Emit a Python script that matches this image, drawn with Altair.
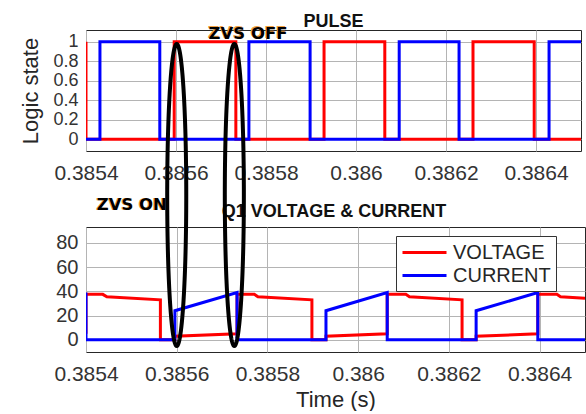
import altair as alt
import numpy as np
import pandas as pd

# ---------------- data ----------------
x_domain = [0.3854, 0.3865]
x_ticks = [0.3854, 0.3856, 0.3858, 0.386, 0.3862, 0.3864]

# top panel: gate pulses (logic state)
pulse_red_t = [0.3854, 0.3854, 0.385596, 0.385596, 0.385733, 0.385733, 0.385929, 0.385929,
               0.386064, 0.386064, 0.38626, 0.38626, 0.386396, 0.386396, 0.3865]
pulse_red_s = [1, 0, 0, 1, 1, 0, 0, 1, 1, 0, 0, 1, 1, 0, 0]
pulse_blue_t = [0.3854, 0.385431, 0.385431, 0.385564, 0.385564, 0.385762, 0.385762, 0.385898,
                0.385898, 0.386096, 0.386096, 0.386229, 0.386229, 0.386429, 0.386429, 0.3865]
pulse_blue_s = [0, 0, 1, 1, 0, 0, 1, 1, 0, 0, 1, 1, 0, 0, 1, 1]

# bottom panel: Q1 voltage & current
volt_t = [0.3854, 0.3854, 0.385437, 0.385446, 0.385564, 0.385564, 0.385596, 0.385596,
          0.385733, 0.385733, 0.385771, 0.385779, 0.385898, 0.385898, 0.385929, 0.385929,
          0.386064, 0.386064, 0.386105, 0.386113, 0.386229, 0.386229, 0.38626, 0.38626,
          0.386396, 0.386396, 0.386438, 0.386446, 0.3865]
volt_v = [5, 37.5, 37.5, 35.5, 33, 0, 0, 3,
          5, 37.5, 37.5, 35.5, 33, 0, 0, 3,
          5, 37.5, 37.5, 35.5, 33, 0, 0, 3,
          5, 37.5, 37.5, 35.5, 34.3]
cur_t = [0.3854, 0.3854, 0.385596, 0.385596, 0.385733, 0.385733, 0.385929, 0.385929,
         0.386064, 0.386064, 0.38626, 0.38626, 0.386396, 0.386396, 0.3865]
cur_v = [39, 0, 0, 24, 39, 0, 0, 24, 39, 0, 0, 24, 39, 0, 0]

series_names = ["VOLTAGE", "CURRENT"]
series_colors = ["#ff0000", "#0000ff"]

# annotations
ellipse_center_t = [0.3856, 0.385727]
ellipse_half_width_t = 0.000021
ellipse_center_v = 119.4      # in bottom-panel units
ellipse_half_height_v = 124.4

zvs_off_label = ["ZVS OFF"]
zvs_off_t = [0.38576]
zvs_off_v = [1.08]
zvs_on_label = ["ZVS ON"]
zvs_on_t = [0.385501]
zvs_on_v = [111.0]


def frame(t, v, name):
    return pd.DataFrame({"t": t, "v": v, "series": name, "i": list(range(len(t)))})


FONT = "Liberation Sans"

x_scale = alt.Scale(domain=x_domain, nice=False, zero=False)
# the lower panel's heading sits under the upper panel's tick labels
x_top = alt.X("t:Q", scale=x_scale,
              axis=alt.Axis(values=x_ticks, format=".4~f", title="Q1 VOLTAGE & CURRENT",
                            labelFlush=False, labelPadding=11,
                            titleFont=FONT, titleFontSize=18, titleFontWeight="bold",
                            titleColor="#111111", titlePadding=19))
x_bot = alt.X("t:Q", scale=x_scale,
              axis=alt.Axis(values=x_ticks, format=".4~f", title="Time (s)", labelFlush=False,
                            labelPadding=11, titlePadding=5))
y_top = alt.Y("v:Q", scale=alt.Scale(domain=[-0.12, 1.12], nice=False, zero=False),
              axis=alt.Axis(values=[0, 0.2, 0.4, 0.6, 0.8, 1], format=".1~f",
                            title="Logic state", titlePadding=10, labelOverlap=False,
                            labelFontSize=18))
y_bot = alt.Y("v:Q", scale=alt.Scale(domain=[-10, 93], nice=False, zero=False),
              axis=alt.Axis(values=[0, 20, 40, 60, 80], format="d", title=None,
                            labelOverlap=False, labelFontSize=20))

# ---------------- top panel ----------------
top_red = alt.Chart(frame(pulse_red_t, pulse_red_s, "red")).mark_line(
    strokeWidth=3, clip=True, color=series_colors[0]).encode(x=x_top, y=y_top, order="i:Q")
top_blue = alt.Chart(frame(pulse_blue_t, pulse_blue_s, "blue")).mark_line(
    strokeWidth=3, clip=True, color=series_colors[1]).encode(x=x_top, y=y_top, order="i:Q")

off_df = pd.DataFrame({"t": zvs_off_t, "v": zvs_off_v, "label": zvs_off_label})
off_shadow = alt.Chart(off_df).mark_text(
    font="DejaVu Sans", fontWeight="bold", fontSize=16.5, color="#f0a040",
    baseline="middle", align="center", dx=-1, dy=-0.5, clip=False).encode(
    x=x_top, y=y_top, text="label:N")
off_text = alt.Chart(off_df).mark_text(
    font="DejaVu Sans", fontWeight="bold", fontSize=16.5, color="#000000",
    baseline="middle", align="center", clip=False).encode(
    x=x_top, y=y_top, text="label:N")

top = alt.layer(top_red, top_blue, off_shadow, off_text).properties(
    width=495, height=121,
    title=alt.TitleParams("PULSE", font=FONT, fontSize=18, fontWeight="bold",
                          color="#111111", anchor="middle", offset=-6, frame="group"))

# ---------------- bottom panel ----------------
color_enc = alt.Color("series:N",
                      scale=alt.Scale(domain=series_names, range=series_colors),
                      legend=alt.Legend(title=None, orient="none", legendX=310, legendY=206,
                                        symbolType="M-2.2,0H2.2", symbolSize=400,
                                        symbolStrokeWidth=3, labelFontSize=20,
                                        labelFont=FONT, labelColor="#262626",
                                        fillColor="white", strokeColor="#333333",
                                        padding=5, rowPadding=1, labelOffset=17,
                                        symbolOffset=12))

bot_red = alt.Chart(frame(volt_t, volt_v, "VOLTAGE")).mark_line(
    strokeWidth=3, clip=True).encode(x=x_bot, y=y_bot, color=color_enc, order="i:Q")
bot_blue = alt.Chart(frame(cur_t, cur_v, "CURRENT")).mark_line(
    strokeWidth=3, clip=True).encode(x=x_bot, y=y_bot, color=color_enc, order="i:Q")

theta = np.linspace(0, 2 * np.pi, 181)
ell_rows = []
for k, c in enumerate(ellipse_center_t):
    for j, th in enumerate(theta):
        ell_rows.append({"t": c + ellipse_half_width_t * np.cos(th),
                         "v": ellipse_center_v + ellipse_half_height_v * np.sin(th),
                         "id": k, "i": j})
ell_df = pd.DataFrame(ell_rows)
ellipses = alt.Chart(ell_df).mark_line(strokeWidth=4, color="#000000", clip=False).encode(
    x=x_bot, y=y_bot, detail="id:N", order="i:Q")

on_df = pd.DataFrame({"t": zvs_on_t, "v": zvs_on_v, "label": zvs_on_label})
on_shadow = alt.Chart(on_df).mark_text(
    font="DejaVu Sans", fontWeight="bold", fontSize=16.5, color="#f0a040",
    baseline="middle", align="center", dx=-1, dy=-0.5, clip=False).encode(
    x=x_bot, y=y_bot, text="label:N")
on_text = alt.Chart(on_df).mark_text(
    font="DejaVu Sans", fontWeight="bold", fontSize=16.5, color="#000000",
    baseline="middle", align="center", clip=False).encode(
    x=x_bot, y=y_bot, text="label:N")

bottom = alt.layer(bot_red, bot_blue, on_shadow, on_text, ellipses).properties(
    width=499, height=125)

chart = alt.vconcat(top, bottom, spacing=76, bounds="flush").properties(
    padding={"left": 19, "top": 12, "right": 0, "bottom": 0},
    background="white",
).configure_axis(
    labelFont=FONT, labelFontSize=21, labelColor="#333333", labelPadding=8,
    titleFont=FONT, titleFontSize=22, titleFontWeight="normal", titleColor="#262626",
    ticks=False, domain=False, grid=True, gridColor="#b4b4b4", gridOpacity=1,
).configure_view(stroke="#262626", strokeWidth=1)

chart.save("out.html", embed_options={"renderer": "svg", "actions": False})
